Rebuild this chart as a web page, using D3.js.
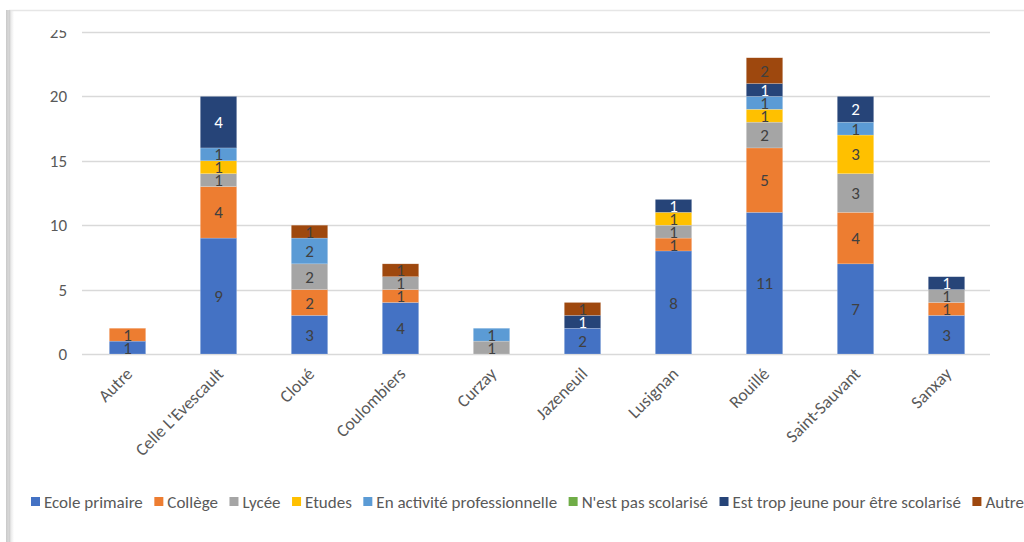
<!DOCTYPE html>
<html><head><meta charset="utf-8">
<script src="https://cdn.jsdelivr.net/npm/d3@7"></script>
<style>html,body{margin:0;padding:0;background:#fff;overflow:hidden}</style>
</head><body>
<svg id="c" width="1024" height="542"></svg>
<script>
const categories = ["Autre","Celle L'Evescault","Cloué","Coulombiers","Curzay","Jazeneuil","Lusignan","Rouillé","Saint-Sauvant","Sanxay"];
const seriesNames = ["Ecole primaire","Collège","Lycée","Etudes","En activité professionnelle","N'est pas scolarisé","Est trop jeune pour être scolarisé","Autre"];
const ecolePrimaire = [1,9,3,4,0,2,8,11,7,3];
const college       = [1,4,2,1,0,0,1,5,4,1];
const lycee         = [0,1,2,1,1,0,1,2,3,1];
const etudes        = [0,1,0,0,0,0,1,1,3,0];
const enActivite    = [0,1,2,0,1,0,0,1,1,0];
const pasScolarise  = [0,0,0,0,0,0,0,0,0,0];
const tropJeune     = [0,4,0,0,0,1,1,1,2,1];
const autre         = [0,0,1,1,0,1,0,2,0,0];
const yTicks = [0,5,10,15,20,25];
const colors = ["#4472C4","#ED7D31","#A5A5A5","#FFC000","#5B9BD5","#70AD47","#264478","#9E480E"];
const labelColors = ["#404040","#404040","#404040","#404040","#404040","#404040","#ffffff","#404040"];

const values = [ecolePrimaire,college,lycee,etudes,enActivite,pasScolarise,tropJeune,autre];
const table = categories.map((c,i)=>{const o={cat:c}; seriesNames.forEach((s,j)=>o[s]=values[j][i]); return o;});
const stacked = d3.stack().keys(seriesNames)(table);

const svg = d3.select("#c");
const font = "Carlito, Calibri, 'Open Sans', sans-serif";

// frame
const defs = svg.append("defs");
const g1 = defs.append("linearGradient").attr("id","sh").attr("x1","0").attr("x2","1");
g1.append("stop").attr("offset","0").attr("stop-color","#c8c8c8");
g1.append("stop").attr("offset","1").attr("stop-color","#ffffff");
svg.append("rect").attr("x",6).attr("y",10).attr("width",8).attr("height",532).attr("fill","url(#sh)");
svg.append("line").attr("x1",9).attr("x2",1024).attr("y1",10.5).attr("y2",10.5).attr("stroke","#e6e6e6").attr("stroke-width",1.5);
svg.append("line").attr("x1",9.5).attr("x2",9.5).attr("y1",10).attr("y2",542).attr("stroke","#d0d0d0").attr("stroke-width",1.5);

defs.append("clipPath").attr("id","clipTop").append("rect").attr("x",-200).attr("y",30).attr("width",400).attr("height",512);

const x = d3.scaleBand().domain(categories).range([82,992]).paddingInner(0.6).paddingOuter(0.3);
const y = d3.scaleLinear().domain([0,25]).range([354,32]);

// gridlines
svg.append("g").selectAll("line").data(yTicks).join("line")
  .attr("x1",82).attr("x2",990).attr("y1",d=>Math.round(y(d))+0.5).attr("y2",d=>Math.round(y(d))+0.5)
  .attr("stroke","#d9d9d9").attr("stroke-width",1.5);

// y axis labels
const yAxis = d3.axisLeft(y).tickValues(yTicks).tickSize(0).tickPadding(0);
const ya = svg.append("g").attr("transform","translate(67,0)").attr("clip-path","url(#clipTop)").call(yAxis);
ya.select(".domain").remove();
ya.selectAll("text").attr("fill","#595959").style("font-family",font).style("font-size","17px");

// bars
const layers = svg.append("g").selectAll("g").data(stacked).join("g").attr("fill",(d,i)=>colors[i]);
layers.selectAll("rect").data(d=>d.map(v=>({v,cat:v.data.cat}))).join("rect")
  .attr("x",d=>x(d.cat)).attr("width",x.bandwidth())
  .attr("y",d=>y(d.v[1])).attr("height",d=>y(d.v[0])-y(d.v[1]))
  .attr("stroke","#ffffff").attr("stroke-opacity",0.35).attr("stroke-width",0.5);

// data labels
const lab = svg.append("g");
stacked.forEach((s,i)=>{
  s.forEach(v=>{
    const val = v[1]-v[0];
    if(val<=0) return;
    lab.append("text").attr("x",x(v.data.cat)+x.bandwidth()/2).attr("y",(y(v[0])+y(v[1]))/2)
      .attr("text-anchor","middle").attr("dy","0.36em").attr("fill",labelColors[i])
      .style("font-family",font).style("font-size","17px").text(val);
  });
});

// x axis labels
const xAxis = d3.axisBottom(x).tickSize(0).tickPadding(0);
const xa = svg.append("g").attr("transform","translate(0,366)").call(xAxis);
xa.select(".domain").remove();
xa.selectAll("text").attr("fill","#595959").style("font-family",font).style("font-size","17.5px")
  .attr("text-anchor","end").attr("dy","0").attr("y",0).attr("x",0)
  .attr("transform","translate(6,9) rotate(-45)");

// legend
const leg = svg.append("g").attr("transform","translate(31,502)");
let lx = 0;
seriesNames.forEach((s,i)=>{
  const it = leg.append("g").attr("transform",`translate(${lx},0)`);
  it.append("rect").attr("x",0).attr("y",-5).attr("width",9).attr("height",9).attr("fill",colors[i]);
  const t = it.append("text").attr("x",13).attr("y",0).attr("dy","0.36em").attr("fill","#595959")
    .style("font-family",font).style("font-size","17px").text(s);
  lx += 13 + t.node().getComputedTextLength() + 11.5;
});
</script>
</body></html>
